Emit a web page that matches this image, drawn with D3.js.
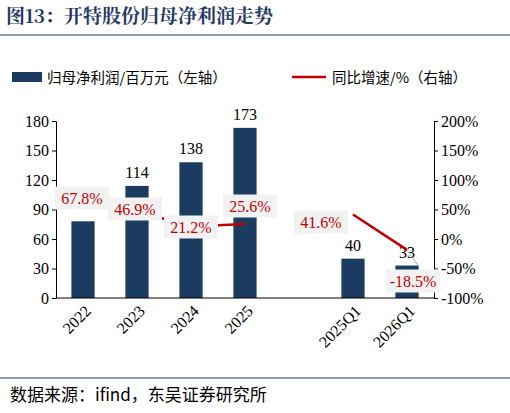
<!DOCTYPE html><html><head><meta charset="utf-8"><script src="https://cdn.jsdelivr.net/npm/d3@7"></script>
<style>body{margin:0;background:#fff}</style></head><body><svg id="c" width="510" height="413"></svg><script>
const categories=["2022","2023","2024","2025","","2025Q1","2026Q1"];
const profit=[78,114,138,173,null,40,33];
const profitLabels=["","114","138","173","","40","33"];
const growth=[67.8,46.9,21.2,25.6,null,41.6,-18.5];
const growthLabels=["67.8%","46.9%","21.2%","25.6%","","41.6%","-18.5%"];
const labelPos=[[82,198],[135,209],[191,227],[250,206],null,[321,222],[413,281]];
const leftTicks=[0,30,60,90,120,150,180];
const rightTicks=[-100,-50,0,50,100,150,200];
const svg=d3.select("#c");
const serif="'Liberation Serif','Times New Roman',serif", cjk="'Noto Sans CJK SC',sans-serif";
svg.append("text").attr("x",6).attr("y",23).attr("font-weight","bold").attr("font-size",19).attr("fill","#1f3864").style("font-family","'Noto Serif CJK SC','Liberation Serif',"+cjk).text("图13：开特股份归母净利润走势");
svg.append("line").attr("x1",0).attr("x2",510).attr("y1",35).attr("y2",35).attr("stroke","#1f3864").attr("stroke-width",1.2);
const x=d3.scaleBand().domain(d3.range(7)).range([56,434]).paddingInner(0.57).paddingOuter(0.285);
const y=d3.scaleLinear().domain([0,180]).range([298,121]);
const y2=d3.scaleLinear().domain([-100,200]).range([298,121]);
profit.forEach((d,i)=>{if(d==null)return;
 svg.append("rect").attr("x",x(i)).attr("y",y(d)).attr("width",x.bandwidth()).attr("height",298-y(d)).attr("fill","#1b3b60");
 if(profitLabels[i])svg.append("text").attr("x",x(i)+x.bandwidth()/2).attr("y",y(d)-8).attr("text-anchor","middle").attr("font-family",serif).attr("font-size",16).text(profitLabels[i]);});
const la=d3.axisLeft(y).tickValues(leftTicks).tickSize(4);
svg.append("g").attr("transform","translate(56,0)").call(la).call(s=>{s.selectAll("text").attr("font-family",serif).attr("font-size",16).attr("fill","#000");s.selectAll("line,path").attr("stroke","#000");});
const ra=d3.axisRight(y2).tickValues(rightTicks).tickSize(4).tickFormat(d=>d+"%");
svg.append("g").attr("transform","translate(434,0)").call(ra).call(s=>{s.selectAll("text").attr("font-family",serif).attr("font-size",16).attr("fill","#000");s.selectAll("line,path").attr("stroke","#000");});
svg.append("line").attr("x1",56).attr("x2",434).attr("y1",298).attr("y2",298).attr("stroke","#000");
const cx=i=>x(i)+x.bandwidth()/2;
svg.append("path").attr("d",d3.line().defined(d=>d[1]!=null).x(d=>cx(d[0])).y(d=>y2(d[1]))(growth.map((v,i)=>[i,v]))).attr("fill","none").attr("stroke","#c00000").attr("stroke-width",2.5);
svg.append("line").attr("x1",cx(6)).attr("y1",y2(-18.5)).attr("x2",cx(6)+12).attr("y2",y2(-18.5)+17).attr("stroke","#aaa");
growth.forEach((v,i)=>{if(v==null)return;const [px,py]=labelPos[i];const w=54,h=23;
 svg.append("rect").attr("x",px-w/2).attr("y",py-h/2).attr("width",w).attr("height",h).attr("fill","#f2f2f2");
 svg.append("text").attr("x",px).attr("y",py+5.5).attr("text-anchor","middle").attr("font-family",serif).attr("font-size",16).attr("fill","#c00000").text(growthLabels[i]);});
categories.forEach((c,i)=>{if(!c)return;svg.append("text").attr("transform",`translate(${cx(i)+9},${312}) rotate(-45)`).attr("text-anchor","end").attr("font-family",serif).attr("font-size",16).text(c);});
svg.append("rect").attr("x",12).attr("y",72).attr("width",30).attr("height",10).attr("fill","#1b3b60");
svg.append("text").attr("x",47).attr("y",83).attr("font-family",cjk).attr("font-size",14.5).text("归母净利润/百万元（左轴）");
svg.append("line").attr("x1",292).attr("x2",326).attr("y1",77).attr("y2",77).attr("stroke","#c00000").attr("stroke-width",2.5);
svg.append("text").attr("x",332).attr("y",83).attr("font-family",cjk).attr("font-size",14.5).text("同比增速/%（右轴）");
svg.append("line").attr("x1",0).attr("x2",510).attr("y1",378).attr("y2",378).attr("stroke","#1f3864");
svg.append("text").attr("x",10).attr("y",401).attr("font-family",cjk).attr("font-size",17).text("数据来源：ifind，东吴证券研究所");
</script></body></html>
